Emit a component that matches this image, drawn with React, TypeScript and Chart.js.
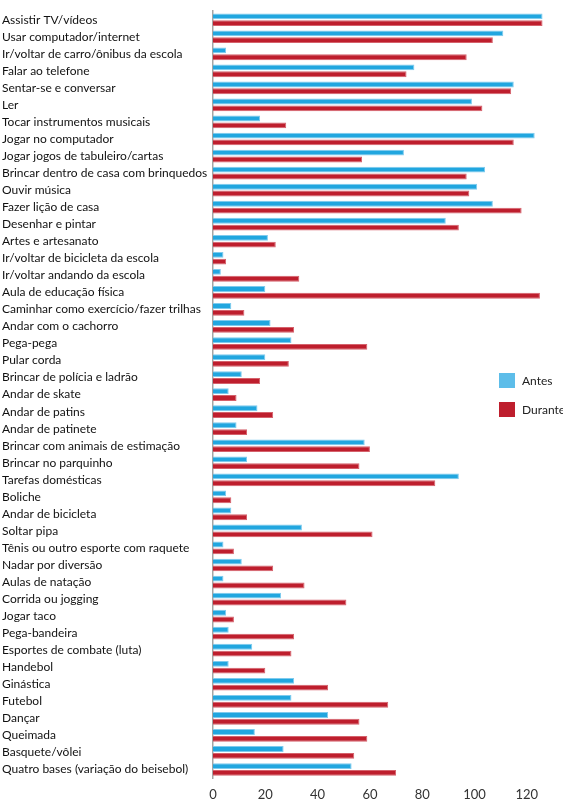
import React, { useEffect, useRef } from "react";
import { Chart, registerables } from "chart.js";

Chart.register(...registerables);

const categories = [
  "Assistir TV/vídeos",
  "Usar computador/internet",
  "Ir/voltar de carro/ônibus da escola",
  "Falar ao telefone",
  "Sentar-se e conversar",
  "Ler",
  "Tocar instrumentos musicais",
  "Jogar no computador",
  "Jogar jogos de tabuleiro/cartas",
  "Brincar dentro de casa com brinquedos",
  "Ouvir música",
  "Fazer lição de casa",
  "Desenhar e pintar",
  "Artes e artesanato",
  "Ir/voltar de bicicleta da escola",
  "Ir/voltar andando da escola",
  "Aula de educação física",
  "Caminhar como exercício/fazer trilhas",
  "Andar com o cachorro",
  "Pega-pega",
  "Pular corda",
  "Brincar de polícia e ladrão",
  "Andar de skate",
  "Andar de patins",
  "Andar de patinete",
  "Brincar com animais de estimação",
  "Brincar no parquinho",
  "Tarefas domésticas",
  "Boliche",
  "Andar de bicicleta",
  "Soltar pipa",
  "Tênis ou outro esporte com raquete",
  "Nadar por diversão",
  "Aulas de natação",
  "Corrida ou jogging",
  "Jogar taco",
  "Pega-bandeira",
  "Esportes de combate (luta)",
  "Handebol",
  "Ginástica",
  "Futebol",
  "Dançar",
  "Queimada",
  "Basquete/vôlei",
  "Quatro bases (variação do beisebol)",
];

const antes = [
  126, 111, 5, 77, 115, 99, 18, 123, 73, 104, 101, 107, 89, 21, 4, 3, 20, 7,
  22, 30, 20, 11, 6, 17, 9, 58, 13, 94, 5, 7, 34, 4, 11, 4, 26, 5, 6, 15, 6,
  31, 30, 44, 16, 27, 53,
];

const durante = [
  126, 107, 97, 74, 114, 103, 28, 115, 57, 97, 98, 118, 94, 24, 5, 33, 125,
  12, 31, 59, 29, 18, 9, 23, 13, 60, 56, 85, 7, 13, 61, 8, 23, 35, 51, 8, 31,
  30, 20, 44, 67, 56, 59, 54, 70,
];

const xTicks = [0, 20, 40, 60, 80, 100, 120];
const seriesNames = ["Antes", "Durante"];

const BLUE = "#21a6df";
const BLUE_LEGEND = "#5dbde9";
const RED = "#be1e2d";

const FONT = "Lato, 'Open Sans', sans-serif";

const legendPlugin = {
  id: "customLegend",
  afterDraw(chart: any) {
    const ctx = chart.ctx;
    const items = [
      { label: seriesNames[0], color: BLUE_LEGEND, y: 373 },
      { label: seriesNames[1], color: RED, y: 402 },
    ];
    ctx.save();
    ctx.font = `12px ${FONT}`;
    ctx.textBaseline = "middle";
    ctx.textAlign = "left";
    for (const it of items) {
      ctx.fillStyle = it.color;
      ctx.fillRect(499, it.y, 16, 15);
      ctx.fillStyle = "#222";
      ctx.fillText(it.label, 522, it.y + 8);
    }
    ctx.restore();
  },
};

export default function App() {
  const ref = useRef<HTMLCanvasElement | null>(null);

  useEffect(() => {
    if (!ref.current) return;
    const chart = new Chart(ref.current, {
      type: "bar",
      data: {
        labels: categories,
        datasets: [
          {
            label: seriesNames[0],
            data: antes,
            backgroundColor: BLUE,
            borderColor: "#7fcbee",
            borderWidth: 1,
            categoryPercentage: 0.8,
            barPercentage: 0.86,
          },
          {
            label: seriesNames[1],
            data: durante,
            backgroundColor: RED,
            borderColor: "#d5626c",
            borderWidth: 1,
            categoryPercentage: 0.8,
            barPercentage: 0.86,
          },
        ],
      },
      options: {
        indexAxis: "y",
        animation: false,
        responsive: false,
        maintainAspectRatio: false,
        layout: { padding: { left: 2, right: 10, top: 8, bottom: 0 } },
        plugins: {
          legend: { display: false },
          tooltip: { enabled: false },
        },
        scales: {
          x: {
            min: 0,
            max: 130,
            grid: { display: false },
            border: { display: false },
            afterBuildTicks(scale: any) {
              scale.ticks = xTicks.map((v) => ({ value: v }));
            },
            afterFit(scale: any) {
              scale.height = 22;
            },
            ticks: {
              padding: 1,
              color: "#333",
              font: { family: FONT, size: 13 },
            },
          },
          y: {
            grid: { display: false },
            border: { display: true, color: "#a5a5a5", width: 1.5 },
            afterFit(scale: any) {
              scale.width = 211;
            },
            ticks: {
              crossAlign: "far",
              autoSkip: false,
              color: "#111",
              padding: 4,
              font: { family: FONT, size: 12 },
            },
          },
        },
      },
      plugins: [legendPlugin],
    });
    return () => chart.destroy();
  }, []);

  return (
    <div style={{ position: "absolute", left: 0, top: 0, width: 563, height: 800, background: "#fff" }}>
      <canvas ref={ref} width={563} height={800} style={{ width: 563, height: 800 }} />
    </div>
  );
}
